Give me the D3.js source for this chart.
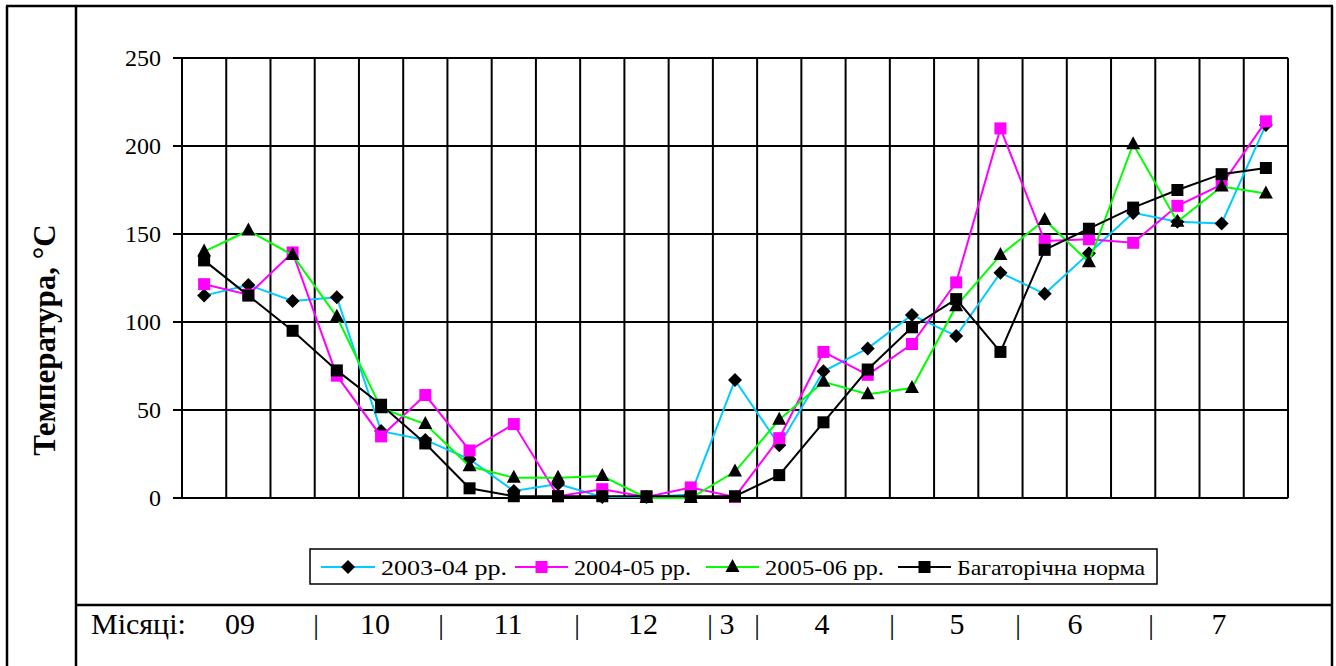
<!DOCTYPE html>
<html><head><meta charset="utf-8">
<script src="https://cdn.jsdelivr.net/npm/d3@7"></script>
<style>body{margin:0;background:#fff}svg{display:block}</style>
</head><body>
<svg id="c" width="1336" height="666"></svg>
<script>
const categories = d3.range(25);
const s2003 = [115, 121, 112, 114, 38, 33, 22, 4, 8, 0.6, 0.5, 2, 67, 30, 72, 85, 104, 92, 128, 116, 139, 162, 157, 156, 212];
const s2004 = [121.5, 115.5, 139.5, 69.5, 35, 58.5, 27, 42, 1, 5, 0.6, 6, 0.6, 34, 83, 70, 87.5, 122.5, 210, 146, 147, 145, 166, 178, 214];
const s2005 = [140, 152, 138, 103, 51, 42, 18, 11.5, 11.5, 12.5, 0, 0, 15, 44.5, 66, 59, 62.5, 109, 138, 158, 134, 201, 157, 177, 173];
const sNorm = [135, 115, 95, 72.5, 53, 31, 5.5, 1, 1, 1, 1, 1, 1, 13, 43, 73, 97, 113, 83, 141, 153, 165, 175, 184, 187.5];
const yTicks = [0, 50, 100, 150, 200, 250];
const seriesNames = ["2003-04 рр.", "2004-05 рр.", "2005-06 рр.", "Багаторічна норма"];
const monthLabels = ["09", "|", "10", "|", "11", "|", "12", "|", "3", "|", "4", "|", "5", "|", "6", "|", "7"];
const monthPos = [240, 316, 375, 441, 508, 577, 643, 710, 727, 757, 822, 892, 957, 1018, 1075, 1151, 1219];

const svg = d3.select("#c");
const font = "'Liberation Serif','Times New Roman',serif";
const L = 182, R = 1288, T = 58, B = 498;
const x = d3.scaleBand().domain(categories).range([L, R]).padding(0);
const y = d3.scaleLinear().domain([0, 250]).range([B, T]);

// frame
const frame = svg.append("g").attr("stroke", "#000").attr("stroke-width", 2.5).attr("fill", "none");
frame.append("line").attr("x1", 7).attr("x2", 7).attr("y1", 6).attr("y2", 666);
frame.append("line").attr("x1", 76).attr("x2", 76).attr("y1", 6).attr("y2", 666);
frame.append("line").attr("x1", 6).attr("x2", 1333).attr("y1", 6).attr("y2", 6);
frame.append("line").attr("x1", 1332).attr("x2", 1332).attr("y1", 6).attr("y2", 666);
frame.append("line").attr("x1", 76).attr("x2", 1333).attr("y1", 605).attr("y2", 605);

// grid
const grid = svg.append("g").attr("stroke", "#000").attr("stroke-width", 2);
grid.selectAll(".hg").data(yTicks).join("line")
  .attr("x1", L - 9).attr("x2", R).attr("y1", d => y(d)).attr("y2", d => y(d));
const bounds = categories.map(c => x(c)).concat([R]);
grid.selectAll(".vg").data(bounds).join("line")
  .attr("x1", d => d).attr("x2", d => d).attr("y1", T).attr("y2", B);

// y axis labels
svg.append("g").selectAll("text").data(yTicks).join("text")
  .attr("x", 161).attr("y", d => y(d)).attr("dy", "0.35em")
  .attr("text-anchor", "end").attr("font-family", font).attr("font-size", 24)
  .text(d => d);

svg.append("text")
  .attr("transform", "translate(55,340) rotate(-90)")
  .attr("text-anchor", "middle").attr("font-family", font).attr("font-size", 31)
  .attr("font-weight", "bold").text("Температура, °C");

// series
const cx = i => x(i) + x.bandwidth() / 2;
const line = d3.line().x((d, i) => cx(i)).y(d => y(d));
const diamond = d3.symbol().type(d3.symbolDiamond2 || d3.symbolDiamond).size(110);
const series = [
  {data: s2003, color: "#00CCFF", marker: "diamond", mfill: "#000"},
  {data: s2004, color: "#FF00FF", marker: "square", mfill: "#FF00FF"},
  {data: s2005, color: "#00FF00", marker: "triangle", mfill: "#000"},
  {data: sNorm, color: "#000000", marker: "square", mfill: "#000"}
];
function drawMarker(g, type, fill, px, py) {
  if (type === "diamond") {
    g.append("path").attr("d", `M${px},${py-7}L${px+7},${py}L${px},${py+7}L${px-7},${py}Z`).attr("fill", fill);
  } else if (type === "square") {
    g.append("rect").attr("x", px - 6).attr("y", py - 6).attr("width", 12).attr("height", 12).attr("fill", fill);
  } else {
    g.append("path").attr("d", `M${px},${py-8}L${px+7},${py+5}L${px-7},${py+5}Z`).attr("fill", fill);
  }
}
series.forEach(s => {
  const g = svg.append("g");
  g.append("path").datum(s.data).attr("d", line).attr("fill", "none")
    .attr("stroke", s.color).attr("stroke-width", 2);
  s.data.forEach((v, i) => drawMarker(g, s.marker, s.mfill, cx(i), y(v)));
});

// legend
const lg = svg.append("g");
lg.append("rect").attr("x", 310).attr("y", 549).attr("width", 847).attr("height", 35)
  .attr("fill", "#fff").attr("stroke", "#000").attr("stroke-width", 1.5);
const legItems = [
  {x1: 321, x2: 375, tx: 381, tw: 126},
  {x1: 515, x2: 568, tx: 574, tw: 117},
  {x1: 706, x2: 759, tx: 765, tw: 119},
  {x1: 898, x2: 951, tx: 957, tw: 188}
];
legItems.forEach((it, k) => {
  const s = series[k];
  const ly = 567;
  lg.append("line").attr("x1", it.x1).attr("x2", it.x2).attr("y1", ly).attr("y2", ly)
    .attr("stroke", s.color).attr("stroke-width", 2);
  drawMarker(lg, s.marker, s.mfill, (it.x1 + it.x2) / 2, ly);
  lg.append("text").attr("x", it.tx).attr("y", ly).attr("dy", "0.35em")
    .attr("font-family", font).attr("font-size", 22)
    .attr("textLength", it.tw).attr("lengthAdjust", "spacingAndGlyphs")
    .text(seriesNames[k]);
});

// months row
svg.append("text").attr("x", 91).attr("y", 634).attr("font-family", font).attr("font-size", 30)
  .text("Місяці:");
svg.append("g").selectAll("text").data(monthLabels).join("text")
  .attr("x", (d, i) => monthPos[i]).attr("y", 634).attr("text-anchor", "middle")
  .attr("font-family", font).attr("font-size", d => d === "|" ? 28 : 30)
  .attr("font-weight", "normal")
  .text(d => d);
</script>
</body></html>
